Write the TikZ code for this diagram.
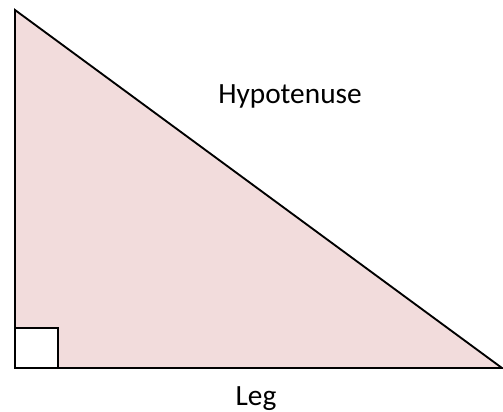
\documentclass[tikz,border=0pt]{standalone}
\usepackage{fontspec}
\setmainfont{Carlito}
\usepackage{xcolor}
\usepackage{tikz}
\usetikzlibrary{positioning}
\definecolor{trifill}{RGB}{242,220,220}

\begin{document}
\begin{tikzpicture}[x=0.75pt, y=-0.75pt, line width=1.4pt,
    sidelabel/.style={font=\fontsize{22}{26}\selectfont, inner sep=0pt, anchor=base}]
    \useasboundingbox (0,0) rectangle (503,411);
    \coordinate (top) at (15,10);
    \coordinate (corner) at (15,368);
    \coordinate (right) at (502,368);
    \draw[fill=trifill, line join=miter] (top) -- (corner) -- (right) -- cycle;
    \draw[fill=white] (corner) rectangle ++(43,-40);
    \node[sidelabel] (hyp) at (290,103) {Hypotenuse};
    \node[sidelabel] (leg) at (256,405) {Leg};
\end{tikzpicture}
\end{document}
